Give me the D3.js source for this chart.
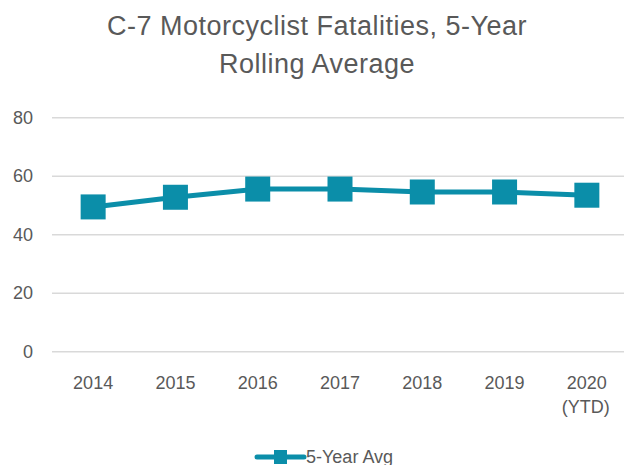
<!DOCTYPE html>
<html><head><meta charset="utf-8">
<script src="https://cdn.jsdelivr.net/npm/d3@7"></script>
<style>body{margin:0;background:#fff}svg{display:block}</style>
</head><body>
<svg id="c" width="624" height="465"></svg>
<script>
const titleLines = ["C-7 Motorcyclist Fatalities, 5-Year", "Rolling Average"];
const categories = ["2014", "2015", "2016", "2017", "2018", "2019", "2020"];
const categorySub = ["", "", "", "", "", "", "(YTD)"];
const seriesName = "5-Year Avg";
const values = [49.5, 52.8, 55.6, 55.6, 54.6, 54.6, 53.5];
const yTicks = [0, 20, 40, 60, 80];

const W = 624, H = 465;
const color = "#0b8ea9", textColor = "#595959", gridColor = "#d9d9d9";
const font = "'Liberation Sans', Arial, sans-serif";
const svg = d3.select("#c");

const x = d3.scaleBand().domain(categories).range([52, 628]);
const y = d3.scaleLinear().domain([0, 80]).range([351.7, 117.7]);

// title
svg.append("g").selectAll("text").data(titleLines).join("text")
  .attr("x", 317).attr("y", (d, i) => 35 + i * 38)
  .attr("text-anchor", "middle").attr("font-family", font)
  .attr("font-size", 27).attr("letter-spacing", 0.5)
  .attr("fill", textColor).text(d => d);

// grid
svg.append("g").selectAll("line").data(yTicks).join("line")
  .attr("x1", 52).attr("x2", 628)
  .attr("y1", d => y(d)).attr("y2", d => y(d))
  .attr("stroke", gridColor).attr("stroke-width", 1.5);

// y axis labels
const yAxis = d3.axisLeft(y).tickValues(yTicks).tickSize(0).tickPadding(0);
const ya = svg.append("g").attr("transform", "translate(33,0)").call(yAxis);
ya.select(".domain").remove();
ya.selectAll("text").attr("font-family", font).attr("font-size", 18).attr("fill", textColor);

// x axis labels
const xa = svg.append("g");
xa.selectAll("text.c").data(categories).join("text").attr("class", "c")
  .attr("x", d => x(d) + x.bandwidth() / 2).attr("y", 389)
  .attr("text-anchor", "middle").attr("font-family", font).attr("font-size", 18)
  .attr("fill", textColor).text(d => d);
xa.selectAll("text.s").data(categories.map((c, i) => [c, categorySub[i]]).filter(d => d[1])).join("text").attr("class", "s")
  .attr("x", d => x(d[0]) + x.bandwidth() / 2 - 1).attr("y", 413)
  .attr("text-anchor", "middle").attr("font-family", font).attr("font-size", 18)
  .attr("fill", textColor).text(d => d[1]);

// line
const line = d3.line().x((d, i) => x(categories[i]) + x.bandwidth() / 2).y(d => y(d));
svg.append("path").datum(values).attr("d", line).attr("fill", "none")
  .attr("stroke", color).attr("stroke-width", 5).attr("stroke-linejoin", "round");

const ms = 25;
svg.append("g").selectAll("rect").data(values).join("rect")
  .attr("x", (d, i) => x(categories[i]) + x.bandwidth() / 2 - ms / 2)
  .attr("y", d => y(d) - ms / 2).attr("width", ms).attr("height", ms).attr("fill", color);

// legend
const lg = svg.append("g");
lg.append("line").attr("x1", 257).attr("x2", 304).attr("y1", 457).attr("y2", 457)
  .attr("stroke", color).attr("stroke-width", 5).attr("stroke-linecap", "round");
lg.append("rect").attr("x", 274).attr("y", 450).attr("width", 13).attr("height", 14).attr("fill", color);
lg.append("text").attr("x", 306).attr("y", 463).attr("font-family", font).attr("font-size", 18)
  .attr("fill", textColor).text(seriesName);
</script>
</body></html>
